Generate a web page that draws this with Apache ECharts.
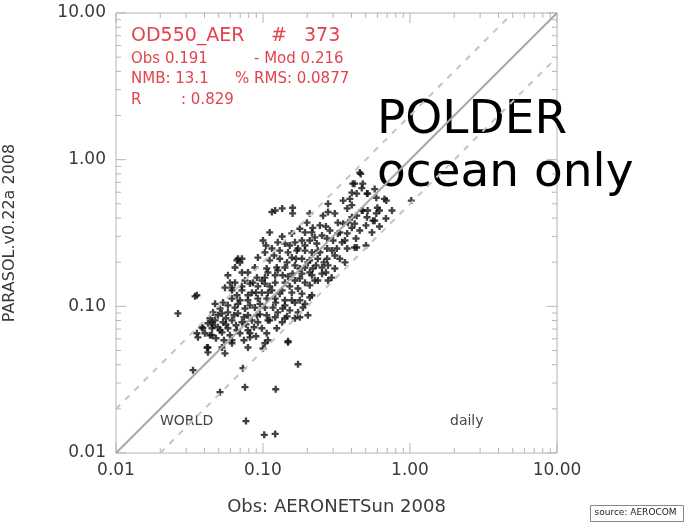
<!DOCTYPE html>
<html>
<head>
<meta charset="utf-8">
<script src="https://cdn.jsdelivr.net/npm/echarts@6/dist/echarts.min.js"></script>
<style>
  html, body { margin: 0; padding: 0; background: #fff; }
  #chart { width: 685px; height: 524px; }
</style>
</head>
<body>
<div id="chart"></div>
<script>
// AERONET obs (x) vs PARASOL model (y), daily, ocean only
const obsVals = [
  0.42, 0.47, 0.515, 0.575, 0.59, 0.69, 0.39, 0.351, 0.402, 0.374,
  0.277, 0.277, 0.256, 0.208, 0.159, 0.159, 0.121, 0.135, 0.115, 0.199,
  0.218, 0.193, 0.157, 0.308, 0.323, 0.351, 0.402, 0.42, 0.47, 0.515,
  0.59, 0.575, 0.51, 0.285, 0.323, 0.374, 0.402, 0.30, 0.273, 0.252,
  0.232, 0.208, 0.184, 0.165, 0.141, 0.126, 0.100, 0.345, 0.374, 0.42,
  0.318, 0.273, 0.236, 0.215, 0.193, 0.170, 0.148, 0.130, 0.115, 0.103,
  0.0665, 0.0719, 0.0645, 0.0577, 0.0923, 0.111, 0.130, 0.157, 0.184, 0.208,
  0.236, 0.273, 0.308, 0.277, 0.252, 0.218, 0.193, 0.165, 0.141, 0.124,
  0.106, 0.0881, 0.079, 0.0719, 0.0909, 0.103, 0.121, 0.136, 0.159, 0.184,
  0.215, 0.252, 0.277, 0.225, 0.193, 0.165, 0.141, 0.121, 0.103, 0.0855,
  0.0754, 0.0645, 0.0551, 0.0615, 0.0719, 0.0841, 0.0983, 0.115, 0.135, 0.157,
  0.184, 0.215, 0.165, 0.193, 0.141, 0.121, 0.106, 0.0923, 0.079, 0.0697,
  0.0615, 0.0535, 0.0472, 0.0645, 0.0754, 0.0881, 0.103, 0.117, 0.136, 0.173,
  0.202, 0.0577, 0.0526, 0.0457, 0.0676, 0.079, 0.0909, 0.106, 0.121, 0.141,
  0.0472, 0.0535, 0.0615, 0.0719, 0.0923, 0.108, 0.0422, 0.0384, 0.0403, 0.0450,
  0.0510, 0.0577, 0.0665, 0.079, 0.0983, 0.124, 0.0815, 0.106, 0.148, 0.103,
  0.079, 0.0615, 0.0526, 0.0422, 0.0361, 0.0355, 0.455, 0.408, 0.477, 0.402,
  0.434, 0.51, 0.67, 1.02, 0.60, 0.62, 0.56, 0.477, 0.462, 0.0345,
  0.0264, 0.0355, 0.0390, 0.0450, 0.0457, 0.0436, 0.0526, 0.0416, 0.0422, 0.0551,
  0.0615, 0.0334, 0.0730, 0.0754, 0.0510, 0.0815, 0.100, 0.108, 0.122, 0.0766,
  0.102, 0.121, 0.173, 0.148, 0.293, 0.434, 0.208, 0.187, 0.178, 0.146,
  0.0676, 0.0697, 0.0615,
  // dense core, middle part
  0.1048, 0.1188, 0.1457, 0.1677, 0.178, 0.202, 0.2293, 0.260, 0.244, 0.2947,
  0.333, 0.361, 0.308, 0.268, 0.236, 0.208, 0.173, 0.152, 0.130, 0.111,
  0.0983, 0.108, 0.126, 0.148, 0.178, 0.208, 0.173, 0.152, 0.135, 0.111,
  0.193, 0.225, 0.268, 0.333, 0.3786, 0.434, 0.455, 0.502, 0.4292, 0.361,
  0.244, 0.215, 0.178,
  // dense core, lower part
  0.0436, 0.0494, 0.0560, 0.0635, 0.0742, 0.0841, 0.0953, 0.0494, 0.0560, 0.0655,
  0.0766, 0.0869, 0.0697, 0.0596, 0.0479, 0.0543, 0.0742, 0.0896, 0.0450, 0.0676,
  0.0815, 0.0953, 0.0577, 0.0510, 0.0790, 0.0896, 0.0665, 0.0596, 0.0719, 0.0815,
  0.0923, 0.108, 0.122, 0.141, 0.157, 0.178, 0.152, 0.126, 0.111, 0.135,
  0.165, 0.502, 0.551, 0.62, 0.686, 0.754
];
const modVals = [
  0.686, 0.64, 0.587, 0.63, 0.55, 0.526, 0.54, 0.526, 0.49, 0.465,
  0.50, 0.44, 0.415, 0.43, 0.43, 0.47, 0.45, 0.465, 0.44, 0.372,
  0.343, 0.319, 0.314, 0.43, 0.372, 0.366, 0.405, 0.366, 0.45, 0.45,
  0.43, 0.384, 0.405, 0.329, 0.314, 0.314, 0.343, 0.281, 0.29, 0.304,
  0.268, 0.281, 0.281, 0.273, 0.268, 0.273, 0.281, 0.273, 0.248, 0.252,
  0.248, 0.248, 0.24, 0.233, 0.24, 0.24, 0.233, 0.24, 0.248, 0.233,
  0.206, 0.211, 0.184, 0.163, 0.215, 0.206, 0.211, 0.215, 0.211, 0.206,
  0.211, 0.211, 0.222, 0.19, 0.184, 0.181, 0.184, 0.19, 0.184, 0.184,
  0.181, 0.184, 0.17, 0.17, 0.157, 0.157, 0.163, 0.163, 0.167, 0.167,
  0.163, 0.167, 0.150, 0.150, 0.145, 0.150, 0.145, 0.145, 0.143, 0.145,
  0.150, 0.145, 0.134, 0.1285, 0.1285, 0.124, 0.124, 0.1285, 0.1285, 0.124,
  0.122, 0.119, 0.106, 0.104, 0.110, 0.113, 0.113, 0.113, 0.110, 0.110,
  0.113, 0.106, 0.104, 0.098, 0.0967, 0.098, 0.098, 0.098, 0.0967, 0.0909,
  0.0869, 0.0909, 0.0895, 0.0909, 0.0895, 0.0869, 0.0869, 0.0869, 0.0842, 0.0829,
  0.0803, 0.0779, 0.0803, 0.0779, 0.0779, 0.0803, 0.0767, 0.0720, 0.0655, 0.0635,
  0.0687, 0.0709, 0.0687, 0.0687, 0.0709, 0.0709, 0.0615, 0.0655, 0.0569, 0.056,
  0.0524, 0.056, 0.0524, 0.0524, 0.0615, 0.119, 0.816, 0.686, 0.686, 0.596,
  0.587, 0.587, 0.54, 0.526, 0.47, 0.45, 0.384, 0.45, 0.80, 0.117,
  0.0895, 0.0655, 0.0709, 0.0779, 0.0743, 0.0635, 0.0665, 0.0524, 0.0486, 0.0478,
  0.0587, 0.0367, 0.0379, 0.0281, 0.026, 0.0655, 0.0516, 0.0587, 0.0272, 0.0165,
  0.0133, 0.0135, 0.0403, 0.0578, 0.157, 0.252, 0.115, 0.098, 0.0842, 0.0855,
  0.211, 0.199, 0.134,
  // dense core, middle part
  0.260, 0.222, 0.1992, 0.211, 0.181, 0.1992, 0.19, 0.1992, 0.233, 0.24,
  0.211, 0.1992, 0.181, 0.17, 0.150, 0.139, 0.1323, 0.1368, 0.122, 0.1368,
  0.150, 0.17, 0.176, 0.160, 0.155, 0.17, 0.248, 0.260, 0.2995, 0.319,
  0.260, 0.295, 0.350, 0.319, 0.372, 0.415, 0.329, 0.356, 0.29, 0.281,
  0.356, 0.319, 0.338,
  // dense core, lower part
  0.0829, 0.0869, 0.0829, 0.0869, 0.0842, 0.0803, 0.0882, 0.0720, 0.0754, 0.0743,
  0.0754, 0.0720, 0.0655, 0.0635, 0.0606, 0.0587, 0.0587, 0.0625, 0.0709, 0.104,
  0.1016, 0.104, 0.1016, 0.0967, 0.119, 0.124, 0.119, 0.145, 0.1368, 0.143,
  0.1368, 0.124, 0.106, 0.1016, 0.110, 0.110, 0.0939, 0.0909, 0.0803, 0.0779,
  0.0829, 0.260, 0.319, 0.350, 0.397, 0.45
];

// 1:1 line and factor-2 lines
const oneToOne = [[0.01, 0.01], [10, 10]];
const factorUp = [[0.01, 0.02], [5, 10]];
const factorDown = [[0.02, 0.01], [10, 5]];

const axisMin = 0.01, axisMax = 10;
const majorTicks = [0.01, 0.1, 1, 10];
const minorSteps = [2, 3, 4, 5, 6, 7, 8, 9];

const pairs = obsVals.map((v, i) => [v, modVals[i]]);

const chart = echarts.init(document.getElementById('chart'));

const axisCommon = {
  type: 'log',
  logBase: 10,
  min: axisMin,
  max: axisMax,
  axisLine: { show: false },
  axisTick: { show: false },
  splitLine: { show: false },
  axisLabel: {
    color: '#3a3a3a',
    fontSize: 17,
    fontFamily: 'DejaVu Sans',
    formatter: v => v.toFixed(2)
  }
};

const option = {
  backgroundColor: '#fff',
  animation: false,
  grid: {
    left: 116, right: 128, top: 13, bottom: 71,
    outerBoundsMode: 'none',
    show: true, borderColor: '#b5b5b5', borderWidth: 1
  },
  xAxis: Object.assign({}, axisCommon, {
    name: 'Obs: AERONETSun 2008',
    nameLocation: 'middle',
    nameGap: 45,
    nameTextStyle: { color: '#3a3a3a', fontSize: 18, fontFamily: 'DejaVu Sans' },
    axisLabel: Object.assign({}, axisCommon.axisLabel, { margin: 9 })
  }),
  yAxis: Object.assign({}, axisCommon, {
    name: 'PARASOL.v0.22a 2008',
    nameLocation: 'middle',
    nameGap: 98,
    nameTextStyle: { color: '#3a3a3a', fontSize: 16, fontFamily: 'DejaVu Sans' },
    axisLabel: Object.assign({}, axisCommon.axisLabel, { margin: 10 })
  }),
  series: [
    {
      type: 'line', data: oneToOne, symbol: 'none', silent: true,
      lineStyle: { color: '#a8a8a8', width: 2 }
    },
    {
      type: 'line', data: factorUp, symbol: 'none', silent: true,
      lineStyle: { color: '#c4c4c4', width: 2, type: [6, 7] }
    },
    {
      type: 'line', data: factorDown, symbol: 'none', silent: true,
      lineStyle: { color: '#c4c4c4', width: 2, type: [6, 7] }
    },
    {
      type: 'scatter',
      data: pairs,
      symbol: 'path://M2,0H4V2H6V4H4V6H2V4H0V2H2Z',
      symbolSize: 7,
      itemStyle: { color: '#111' }
    }
  ]
};

chart.setOption(option);

// ticks on all four sides (inward), major + 2..9 minor, like the IDL frame
function tickLine(x1, y1, x2, y2) {
  return {
    type: 'line', silent: true,
    shape: { x1: x1, y1: y1, x2: x2, y2: y2 },
    style: { stroke: '#b5b5b5', lineWidth: 1 }
  };
}

function texts() {
  const red = '#e2434d';
  const f = 'DejaVu Sans';
  return [
    { type: 'text', left: 131, top: 27, style: { text: 'OD550_AER', fill: red, font: '19px ' + f } },
    { type: 'text', left: 271, top: 27, style: { text: '#', fill: red, font: 'italic 19px ' + f } },
    { type: 'text', left: 304, top: 27, style: { text: '373', fill: red, font: '19px ' + f } },
    { type: 'text', left: 131, top: 52, style: { text: 'Obs 0.191', fill: red, font: '15px ' + f } },
    { type: 'text', left: 254, top: 52, style: { text: '- Mod 0.216', fill: red, font: '15px ' + f } },
    { type: 'text', left: 131, top: 72, style: { text: 'NMB: 13.1', fill: red, font: '15px ' + f } },
    { type: 'text', left: 235, top: 72, style: { text: '% RMS: 0.0877', fill: red, font: '15px ' + f } },
    { type: 'text', left: 131, top: 93, style: { text: 'R', fill: red, font: '15px ' + f } },
    { type: 'text', left: 181, top: 93, style: { text: ': 0.829', fill: red, font: '15px ' + f } },
    { type: 'text', left: 160, top: 414, style: { text: 'WORLD', fill: '#444', font: '14px ' + f } },
    { type: 'text', left: 450, top: 414, style: { text: 'daily', fill: '#444', font: '14px ' + f } },
    { type: 'text', left: 377, top: 97, style: { text: 'POLDER', fill: '#000', font: '47px ' + f } },
    { type: 'text', left: 377, top: 150, style: { text: 'ocean only', fill: '#000', font: '47px ' + f } },
    {
      type: 'group', left: 590, top: 505,
      children: [
        { type: 'rect', shape: { x: 0, y: 0, width: 93, height: 16 }, style: { fill: '#fff', stroke: '#888', lineWidth: 1 } },
        { type: 'text', x: 4, y: 3, style: { text: 'source: AEROCOM', fill: '#222', font: '9px ' + f } }
      ]
    }
  ];
}

function drawFrame() {
  const els = [];
  const px = v => chart.convertToPixel({ gridIndex: 0 }, [v, axisMin])[0];
  const py = v => chart.convertToPixel({ gridIndex: 0 }, [axisMin, v])[1];
  const xL = px(axisMin), xR = px(axisMax);
  const yB = py(axisMin), yT = py(axisMax);
  const add = (v, len) => {
    const x = px(v), y = py(v);
    els.push(tickLine(x, yB, x, yB - len));
    els.push(tickLine(x, yT, x, yT + len));
    els.push(tickLine(xL, y, xL + len, y));
    els.push(tickLine(xR, y, xR - len, y));
  };
  majorTicks.forEach(v => add(v, 10));
  majorTicks.slice(0, -1).forEach(d => minorSteps.forEach(m => add(d * m, 5)));
  chart.setOption({ graphic: els.concat(texts()) });
}

drawFrame();
</script>
</body>
</html>
